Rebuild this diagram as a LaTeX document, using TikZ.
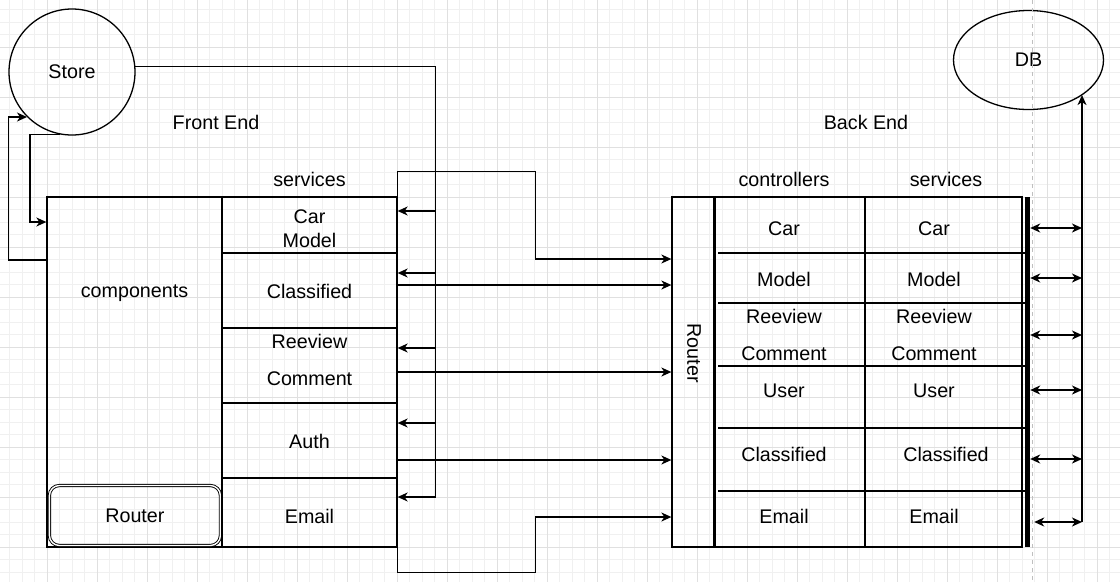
\documentclass[tikz,border=0pt]{standalone}
\usepackage{fontspec}
\setmainfont{Liberation Sans}
\usetikzlibrary{arrows.meta,shapes.geometric}

\begin{document}
\begin{tikzpicture}[x=1pt,y=-1pt,
    every node/.style={font=\fontsize{19.7}{23.6}\selectfont, inner sep=0pt},
    box/.style={draw, line width=1.3pt, rectangle},
    lbl/.style={align=center},
    wire/.style={line width=1.3pt},
    arr/.style={wire, -{Stealth[length=10pt,width=9pt,inset=3pt]}},
    darr/.style={wire, {Stealth[length=10pt,width=9pt,inset=3pt]}-{Stealth[length=10pt,width=9pt,inset=3pt]}},
    sep/.style={line width=2.5pt},
    gridminor/.style={line width=0.8pt, black!6},
    gridmajor/.style={line width=0.8pt, black!12}]

    % Background grid
    \fill[white] (0,0) rectangle (1120,582);
    \useasboundingbox (0,0) rectangle (1120,582);
    \begin{scope}
    \clip (0,0) rectangle (1120,582);
    \foreach \k in {-4,...,86} \draw[gridminor] ({47+12.5*\k},0) -- ({47+12.5*\k},582);
    \foreach \k in {-4,...,43} \draw[gridminor] (0,{47+12.5*\k}) -- (1120,{47+12.5*\k});
    \foreach \k in {-1,...,21} \draw[gridmajor] ({47+50*\k},0) -- ({47+50*\k},582);
    \foreach \k in {-1,...,11} \draw[gridmajor] (0,{47+50*\k}) -- (1120,{47+50*\k});
    \end{scope}

    % Store and DB
    \node[circle, draw, line width=1.3pt, minimum size=126pt] (store) at (72,72) {Store};
    \node[ellipse, draw, line width=1.3pt, minimum width=150pt, minimum height=99pt] (db) at (1028.5,60) {DB};

    % Headings
    \node (frontlbl) at (216,122) {Front End};
    \node (backlbl) at (866,122) {Back End};
    \node (fsvclbl) at (309.5,179) {services};
    \node (ctrllbl) at (784,179) {controllers};
    \node (bsvclbl) at (946,179) {services};

    % Front end
    \node[box, minimum width=175pt, minimum height=350pt] (comp) at (134.5,372) {};
    \node (complbl) at (134.5,293.5) {components};
    \node[draw, double, line width=0.9pt, double distance=1.4pt, rounded corners=10pt,
          minimum width=171pt, minimum height=60pt] (frouter) at (134.9,515.5) {Router};
    \node[box, minimum width=175pt, minimum height=350pt] (fcol) at (309.5,372) {};
    \node[lbl] (fsCar) at (309.5,229) {Car\\Model};
    \node (fsClass) at (309.5,291) {Classified};
    \node[lbl] (fsRev) at (309.5,360) {Reeview\\[14pt]Comment};
    \node (fsAuth) at (309.5,441) {Auth};
    \node (fsEmail) at (309.5,516) {Email};
    \foreach \y in {253,328,403,478} \draw[sep] (222,\y) -- (397,\y);

    % Back end
    \node[box, minimum width=43pt, minimum height=350pt] (brouter) at (693.5,372) {};
    \node[rotate=-90] (brouterlbl) at (694,353) {Router};
    \node[box, minimum width=307pt, minimum height=350pt] (btab) at (868.5,372) {};
    \draw[line width=2.2pt] (btab.north west) -- (btab.south west);
    \draw[line width=2.2pt] (865,197) -- (865,547);
    \foreach \y in {253,303,366,428,491} \draw[sep] (718,\y) -- (1027,\y);
    \draw[black!25, line width=1pt, dash pattern=on 4pt off 4pt] (1032,0) -- (1032,582);
    \node[fill, minimum width=5pt, minimum height=350pt] (bbar) at (1027.5,372) {};

    \foreach \nm/\y/\t in {Car/229/Car, Model/279/Model, Rev/335/{Reeview\\[14pt]Comment},
                           User/391/User, Class/454/Classified, Email/516/Email}
        \node[lbl] (ct\nm) at (784,\y) {\t};
    \foreach \nm/\x/\y/\t in {Car/934/229/Car, Model/934/279/Model, Rev/934/335/{Reeview\\[14pt]Comment},
                              User/934/391/User, Class/946/454/Classified, Email/934/516/Email}
        \node[lbl] (bs\nm) at (\x,\y) {\t};

    % Store <-> components
    \draw[arr] ([yshift=112pt]comp.west) -- ++(-38,0) |- (store.225);
    \draw[arr] (store.259) -- ++(-30,0) |- ([yshift=150pt]comp.west);

    % Store -> services
    \path (store.5) ++(300,0) coordinate (sbus);
    \foreach \it/\dy in {fsCar/18,fsClass/18,fsRev/12,fsAuth/18,fsEmail/19}
        \draw[arr] (store.5) -- (sbus) |- ([yshift=\dy pt]\it -| fcol.east);

    % Services -> back end router
    \draw[arr] (fcol.north east) -- ++(0,-25) -- ++(138,0) |- ([yshift=113pt]brouter.west);
    \draw[arr] ([yshift=6pt]fsClass -| fcol.east) -- ([yshift=6pt]fsClass -| brouter.west);
    \draw[arr] ([yshift=-12pt]fsRev -| fcol.east) -- ([yshift=-12pt]fsRev -| brouter.west);
    \draw[arr] ([yshift=-19pt]fsAuth -| fcol.east) -- ([yshift=-19pt]fsAuth -| brouter.west);
    \draw[arr] (fcol.south east) -- ++(0,25) -- ++(138,0) |- ([yshift=-145pt]brouter.west);

    % Back end services <-> DB
    \coordinate (dbus) at (1082,522);
    \foreach \nm/\dy/\gap in {Car/1/0,Model/1/0,Rev/0/0,User/1/0,Class/-5/0,Email/-6/4}
        \draw[darr, shorten <=\gap pt] ([yshift=\dy pt]bs\nm -| bbar.east) -- ([yshift=\dy pt]bs\nm -| dbus);
    \draw[arr] (dbus) -- (dbus |- db.-33);

\end{tikzpicture}
\end{document}
